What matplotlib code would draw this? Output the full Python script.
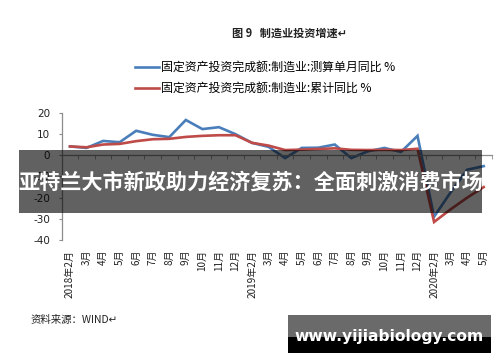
import matplotlib
matplotlib.use("Agg")
import matplotlib.pyplot as plt
from matplotlib.patches import Rectangle

plt.rcParams['font.family'] = ['Noto Sans CJK SC', 'DejaVu Sans']
plt.rcParams['axes.unicode_minus'] = False

months = ["2018年2月", "3月", "4月", "5月", "6月", "7月", "8月", "9月", "10月", "11月", "12月",
          "2019年2月", "3月", "4月", "5月", "6月", "7月", "8月", "9月", "10月", "11月", "12月",
          "2020年2月", "3月", "4月", "5月"]
single_month = [4.2, 3.5, 6.8, 6.2, 11.6, 9.7, 8.6, 16.7, 12.4, 13.3, 10.0,
                5.9, 4.0, -1.3, 3.5, 3.6, 5.1, -1.3, 1.9, 3.5, 1.6, 9.2,
                -29.0, -17.5, -6.8, -5.1]
cumulative = [4.2, 3.8, 5.1, 5.4, 6.7, 7.6, 7.8, 8.7, 9.2, 9.5, 9.5,
              5.9, 4.6, 2.5, 2.7, 3.0, 3.3, 2.6, 2.5, 2.6, 2.5, 3.1,
              -31.5, -25.5, -20.0, -15.0]
series_names = ["固定资产投资完成额:制造业:测算单月同比 %", "固定资产投资完成额:制造业:累计同比 %"]
yticks = [-40, -30, -20, -10, 0, 10, 20]

W, H = 500, 362
fig = plt.figure(figsize=(5.0, 3.62), dpi=100)
fig.patch.set_facecolor("white")

ax = fig.add_axes([61.7 / W, 1 - 240 / H, (492 - 61.7) / W, 127 / H])
x = list(range(len(months)))
l1, = ax.plot(x, single_month, color="#4A7EBB", lw=1.9, solid_joinstyle="miter")
l2, = ax.plot(x, cumulative, color="#BE4B48", lw=1.9, solid_joinstyle="miter")

ax.set_xlim(-0.5, len(months) - 0.5)
ax.set_ylim(-40, 20)
ax.set_facecolor("none")
for s in ["top", "right"]:
    ax.spines[s].set_visible(False)
ax.spines["bottom"].set_position(("data", 0))
ax.spines["bottom"].set_color("#8c8c8c")
ax.spines["left"].set_color("#8c8c8c")
ax.spines["bottom"].set_linewidth(0.9)
ax.spines["left"].set_linewidth(0.9)

ax.set_yticks(yticks)
ax.set_yticklabels([str(v) for v in yticks], fontsize=7.5, color="#222222", family="DejaVu Sans")
ax.tick_params(axis="y", length=2.5, color="#8c8c8c", pad=6)

ax.set_xticks(x)
ax.set_xticklabels(months, rotation=90, fontsize=7.2, color="#222222")
ax.set_xticks([i - 0.5 for i in range(len(months) + 1)], minor=True)
ax.tick_params(axis="x", which="major", length=0, pad=68)
ax.tick_params(axis="x", which="minor", length=3, color="#8c8c8c", direction="out")

# legend
fig.legend([l1, l2], series_names, loc="upper left", bbox_to_anchor=(135 / W, 1 - 61 / H),
           frameon=False, fontsize=8.6, handlelength=2.0, handletextpad=0.15,
           labelspacing=0.65, borderpad=0, borderaxespad=0)

# title
fig.text(290 / W, 1 - 33 / H, "图 9   制造业投资增速↵", ha="center", va="center",
         fontsize=8, fontweight="bold", color="#222222")
# source
fig.text(31 / W, 1 - 320 / H, "资料来源：WIND↵", ha="left", va="center",
         fontsize=7.5, color="#222222")

# overlay banner
fig.patches.append(Rectangle((19 / W, 1 - 212.7 / H), (482 - 19) / W, (212.7 - 150) / H,
                             transform=fig.transFigure, facecolor="black", alpha=0.62,
                             edgecolor="none", zorder=5))
fig.text(250.5 / W, 1 - 182 / H, "亚特兰大市新政助力经济复苏：全面刺激消费市场",
         ha="center", va="center", fontsize=15.2, fontweight="bold", color="white", zorder=6)

# watermark
fig.patches.append(Rectangle((288 / W, 1 - 337 / H), (491 - 288) / W, (337 - 315) / H,
                             transform=fig.transFigure, facecolor="#6a6a6a",
                             edgecolor="none", zorder=5))
fig.patches.append(Rectangle((288 / W, 1 - 353 / H), (491 - 288) / W, (353 - 337) / H,
                             transform=fig.transFigure, facecolor="black",
                             edgecolor="none", zorder=5))
fig.text(389 / W, 1 - 336 / H, "www.yijiabiology.com", ha="center", va="center",
         fontsize=11.2, fontweight="bold", color="white", family="DejaVu Sans", zorder=6)

fig.savefig("out.png", dpi=100, facecolor="white")
